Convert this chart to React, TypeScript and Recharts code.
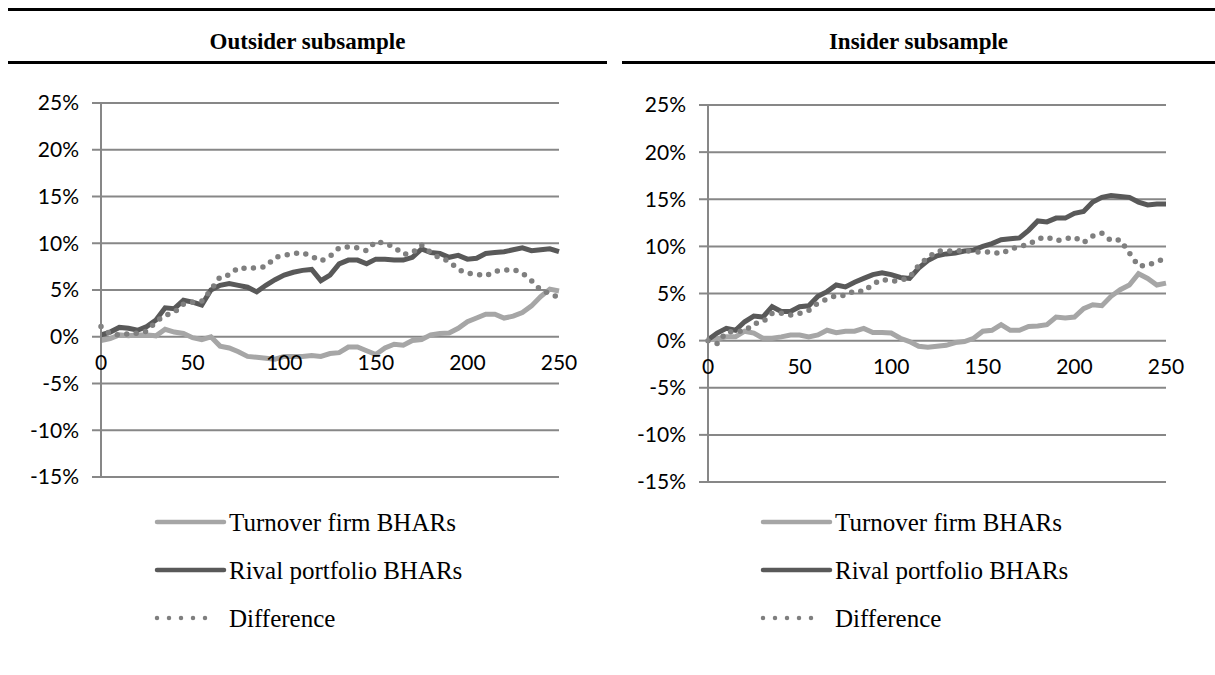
import React from 'react';
import { LineChart, Line, XAxis, YAxis, CartesianGrid, ReferenceDot } from 'recharts';

const DAYS = [
  0, 5, 10, 15, 20, 25, 30, 35, 40, 45, 50, 55, 60, 65, 70, 75, 80, 85, 90, 95, 100,
  105, 110, 115, 120, 125, 130, 135, 140, 145, 150, 155, 160, 165, 170, 175, 180, 185, 190, 195, 200,
  205, 210, 215, 220, 225, 230, 235, 240, 245, 250,
];

// values in percent
const OUT_TURNOVER = [
  -0.4, -0.2, 0.2, 0.1, 0.2, 0.2, 0.1, 0.8, 0.5, 0.35, -0.1, -0.3, 0.0, -1.0, -1.2, -1.6, -2.1, -2.2, -2.3, -2.4, -2.1,
  -2.1, -2.1, -2.0, -2.1, -1.8, -1.7, -1.1, -1.1, -1.5, -1.9, -1.2, -0.8, -0.9, -0.4, -0.3, 0.2, 0.35, 0.4, 0.9, 1.6,
  2.0, 2.4, 2.4, 2.0, 2.2, 2.6, 3.3, 4.3, 5.1, 4.9,
];
const OUT_RIVAL = [
  0.2, 0.5, 1.0, 0.9, 0.7, 1.1, 1.8, 3.1, 3.0, 3.9, 3.7, 3.4, 5.0, 5.5, 5.7, 5.5, 5.3, 4.8, 5.5, 6.1, 6.6,
  6.9, 7.1, 7.2, 6.0, 6.6, 7.8, 8.2, 8.2, 7.8, 8.3, 8.3, 8.2, 8.2, 8.5, 9.4, 9.0, 8.9, 8.5, 8.7, 8.3,
  8.4, 8.9, 9.0, 9.1, 9.3, 9.5, 9.2, 9.3, 9.4, 9.1,
];
const OUT_DIFF = [
  1.1, 0.3, 0.2, 0.3, 0.4, 0.6, 1.6, 2.3, 2.6, 3.5, 3.7, 3.8, 5.0, 6.4, 6.6, 7.4, 7.3, 7.4, 7.5, 8.5, 8.7,
  8.9, 9.0, 8.6, 8.1, 8.6, 9.5, 9.6, 9.5, 9.2, 10.2, 10.0, 9.6, 8.8, 9.0, 9.8, 9.0, 8.4, 8.1, 7.2, 6.8,
  6.7, 6.5, 7.0, 7.1, 7.2, 6.8, 6.0, 5.0, 4.6, 4.2,
];

const IN_TURNOVER = [
  0.1, 0.2, 0.4, 0.4, 1.0, 0.8, 0.25, 0.25, 0.4, 0.6, 0.6, 0.4, 0.6, 1.1, 0.85, 1.0, 1.0, 1.3, 0.85, 0.85, 0.8,
  0.25, -0.1, -0.6, -0.7, -0.6, -0.5, -0.2, -0.1, 0.25, 1.0, 1.1, 1.7, 1.1, 1.1, 1.5, 1.55, 1.7, 2.5, 2.4, 2.5,
  3.4, 3.8, 3.7, 4.7, 5.4, 5.9, 7.1, 6.6, 5.9, 6.1,
];
const IN_RIVAL = [
  0.1, 0.8, 1.3, 1.1, 2.0, 2.6, 2.5, 3.6, 3.1, 3.1, 3.6, 3.7, 4.7, 5.2, 5.9, 5.7, 6.2, 6.6, 7.0, 7.2, 7.0,
  6.7, 6.6, 7.7, 8.5, 9.0, 9.2, 9.3, 9.5, 9.6, 10.0, 10.3, 10.7, 10.8, 10.9, 11.7, 12.7, 12.6, 13.0, 13.0, 13.5,
  13.7, 14.7, 15.2, 15.4, 15.3, 15.2, 14.7, 14.4, 14.5, 14.5,
];
const IN_DIFF = [
  0.0, -0.3, 0.9, 1.0, 1.0, 1.8, 2.0, 2.9, 2.9, 2.7, 2.9, 3.2, 4.0, 4.4, 4.8, 4.8, 5.3, 5.2, 6.0, 6.5, 6.3,
  6.4, 6.7, 8.0, 8.8, 9.5, 9.5, 9.5, 9.6, 9.4, 9.4, 9.4, 9.2, 9.7, 10.0, 10.2, 10.8, 11.0, 10.6, 10.8, 11.0,
  10.4, 11.1, 11.4, 10.6, 10.7, 9.3, 7.9, 8.0, 8.4, 8.7,
];

const Y_TICKS = [-15, -10, -5, 0, 5, 10, 15, 20, 25];
const X_TICKS = [0, 50, 100, 150, 200, 250];
const SERIES_NAMES = ['Turnover firm BHARs', 'Rival portfolio BHARs', 'Difference'];

const LIGHT = '#a6a6a6';
const DARK = '#595959';
const DOTS = '#7f7f7f';
const GRID = '#878787';
const AXIS_FONT = 'Lato, "Open Sans", sans-serif';
const SERIF = '"Liberation Serif", "Times New Roman", serif';

const build = (t: number[], r: number[], d: number[]) =>
  DAYS.map((day, i) => ({ day, turnover: t[i], rival: r[i], diff: d[i] }));

function Panel({ data, left, width, margin, yWidth }: any) {
  return (
    <div style={{ position: 'absolute', left, top: 0 }}>
      <LineChart width={width} height={500} data={data} margin={margin}>
        <CartesianGrid vertical={false} stroke={GRID} strokeWidth={2} />
        <XAxis dataKey="day" type="number" domain={[0, 250]} hide />
        <YAxis
          domain={[-15, 25]}
          ticks={Y_TICKS}
          interval={0}
          width={yWidth}
          tickFormatter={(v) => `${v}%`}
          tick={{ fill: '#000', fontSize: 21, fontFamily: AXIS_FONT }}
          axisLine={{ stroke: GRID, strokeWidth: 2 }}
          tickLine={{ stroke: GRID, strokeWidth: 2 }}
          tickSize={9}
          tickMargin={13}
        />
        {X_TICKS.map((t) => (
          <ReferenceDot
            key={t}
            x={t}
            y={0}
            r={0}
            fill="none"
            stroke="none"
            label={{ value: String(t), position: 'bottom', offset: 18, fill: '#000', fontSize: 21, fontFamily: AXIS_FONT }}
          />
        ))}
        <Line dataKey="turnover" stroke={LIGHT} strokeWidth={5} dot={false} isAnimationActive={false} />
        <Line dataKey="rival" stroke={DARK} strokeWidth={5} dot={false} isAnimationActive={false} />
        <Line
          dataKey="diff"
          stroke={DOTS}
          strokeWidth={5.5}
          strokeDasharray="0 9.5"
          strokeLinecap="round"
          dot={false}
          isAnimationActive={false}
        />
      </LineChart>
    </div>
  );
}

function LegendBox({ x, y }: { x: number; y: number }) {
  const rows = [
    { stroke: LIGHT, dash: undefined, w: 4.5, end: 70 },
    { stroke: DARK, dash: undefined, w: 4.5, end: 70 },
    { stroke: DOTS, dash: '0 12', w: 4.5, end: 63 },
  ];
  return (
    <svg style={{ position: 'absolute', left: x, top: y }} width={330} height={130}>
      {rows.map((r, i) => (
        <g key={i}>
          <line
            x1={3}
            x2={r.end}
            y1={15 + i * 48}
            y2={15 + i * 48}
            stroke={r.stroke}
            strokeWidth={r.w}
            strokeDasharray={r.dash}
            strokeLinecap="round"
          />
          <text x={75} y={15 + i * 48} dominantBaseline="central" fontFamily={SERIF} fontSize={25} fill="#000">
            {SERIES_NAMES[i]}
          </text>
        </g>
      ))}
    </svg>
  );
}

export default function App() {
  const outsider = build(OUT_TURNOVER, OUT_RIVAL, OUT_DIFF);
  const insider = build(IN_TURNOVER, IN_RIVAL, IN_DIFF);
  return (
    <div style={{ position: 'absolute', left: 0, top: 0, width: 1215, height: 675, background: '#fff' }}>
      <div style={{ position: 'absolute', left: 8, top: 8, width: 1207, height: 3, background: '#000' }} />
      <div style={{ position: 'absolute', left: 8, top: 61, width: 599, height: 3, background: '#000' }} />
      <div style={{ position: 'absolute', left: 622, top: 61, width: 593, height: 3, background: '#000' }} />
      <div style={{ position: 'absolute', left: 8, top: 29, width: 599, textAlign: 'center', fontFamily: SERIF, fontWeight: 'bold', fontSize: 23 }}>
        Outsider subsample
      </div>
      <div style={{ position: 'absolute', left: 622, top: 29, width: 593, textAlign: 'center', fontFamily: SERIF, fontWeight: 'bold', fontSize: 23 }}>
        Insider subsample
      </div>
      <Panel data={outsider} left={0} width={620} yWidth={101} margin={{ top: 103, right: 61, bottom: 23, left: 0 }} />
      <Panel data={insider} left={600} width={615} yWidth={108} margin={{ top: 105, right: 49, bottom: 18, left: 0 }} />
      <LegendBox x={154} y={507} />
      <LegendBox x={760} y={507} />
    </div>
  );
}
